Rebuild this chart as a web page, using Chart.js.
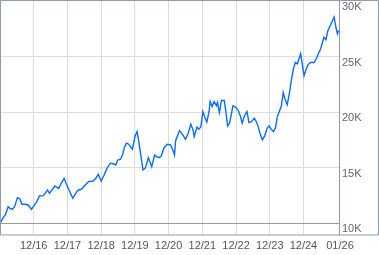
<!DOCTYPE html>
<html>
<head>
<meta charset="utf-8">
<script src="https://cdn.jsdelivr.net/npm/chart.js@4/dist/chart.umd.min.js"></script>
<style>
  html, body { margin: 0; padding: 0; background: #fff; }
  #chart { display: block; }
</style>
</head>
<body>
<canvas id="chart" width="379" height="255"></canvas>
<script>
// months counted from Dec 2015 (0 = 12/15)
const months = [
  0.2, 1.2, 1.9, 2.9, 3.6, 4.3, 5.2, 6.2, 7.1, 7.8,
  9.0, 10.0, 11.2, 12.4, 13.1, 14.0, 15.4, 16.1, 16.9, 17.6,
  18.5, 19.5, 20.2, 20.9, 21.8, 22.8, 23.5, 24.7, 25.9, 26.6,
  27.8, 29.0, 30.3, 31.5, 33.1, 34.1, 35.0, 36.0, 36.9, 38.1,
  39.3, 40.5, 41.2, 41.9, 42.9, 43.6, 44.3, 45.0, 45.7, 46.4,
  47.1, 48.1, 48.8, 49.3, 50.0, 50.9, 51.7, 52.4, 52.8, 54.0,
  55.0, 55.7, 56.6, 57.4, 58.3, 59.5, 60.7, 61.5, 62.1, 62.5,
  63.9, 64.8, 66.0, 67.0, 67.9, 68.7, 69.1, 70.1, 70.8, 71.5,
  72.2, 72.9, 73.6, 74.4, 74.8, 75.5, 76.2, 77.0, 77.4, 78.1,
  78.8, 79.8, 80.3, 81.0, 81.7, 82.4, 82.9, 83.8, 84.8, 85.5,
  86.2, 86.9, 87.9, 88.6, 89.5, 90.5, 91.2, 91.9, 92.5, 93.4,
  94.2, 95.1, 95.8, 96.5, 97.3, 98.0, 98.7, 99.4, 100.1, 100.8,
  101.5, 102.2, 103.0, 103.7, 104.4, 105.1, 105.8, 106.5, 107.0, 107.7,
  108.2, 108.9, 109.6, 110.5, 111.8, 112.7, 113.4, 114.1, 114.8, 115.3,
  116.0, 116.7, 117.5, 118.2, 118.9, 119.6, 120.1, 120.5
];
const values = [
  10090, 10540, 10750, 11500, 11350, 11260, 11500, 12310, 12190, 11710,
  11710, 11650, 11260, 11710, 11950, 12460, 12490, 12700, 13000, 12700,
  13000, 13360, 13240, 13150, 13600, 14050, 13600, 12910, 12250, 12550,
  13000, 13060, 13450, 13750, 13810, 14050, 14410, 13810, 14260, 14960,
  15410, 15340, 15250, 15700, 15770, 16150, 16850, 17210, 17140, 16900,
  16670, 17870, 18250, 17510, 16310, 14800, 14960, 15550, 15910, 15100,
  16150, 16000, 15910, 16060, 16760, 17120, 17050, 16600, 16150, 17440,
  18340, 18050, 17570, 18110, 18920, 18410, 17800, 18650, 18470, 18700,
  20060, 19550, 19100, 20060, 20960, 20510, 20960, 20570, 20870, 19970,
  21050, 21050, 20210, 18770, 19010, 19910, 20570, 20450, 20150, 19670,
  19010, 19600, 20060, 19060, 19150, 19460, 19150, 18700, 18110, 17510,
  17870, 18560, 18770, 18470, 18250, 18560, 19600, 20060, 20510, 21770,
  21110, 20660, 21710, 22910, 23880, 24470, 24350, 24870, 25250, 24110,
  23270, 23810, 24260, 24470, 24470, 24870, 25320, 25680, 26310, 26720,
  26520, 27350, 27780, 28160, 28560, 27570, 27060, 27350
];
const xTickMonths = [12, 24, 36, 48, 60, 72, 84, 96, 108, 121];
const xTickLabels = ['12/16', '12/17', '12/18', '12/19', '12/20', '12/21', '12/22', '12/23', '12/24', '01/26'];
const yTickValues = [10000, 15000, 20000, 25000, 30000];
const yTickLabels = ['10K', '15K', '20K', '25K', '30K'];

const frameColor = '#8c9bb3';

// outer box and the divider between plot and value labels
const framePlugin = {
    id: 'frame',
    afterDraw: function(chart) {
        const ctx = chart.ctx;
        const area = chart.chartArea;
        ctx.save();
        ctx.strokeStyle = frameColor;
        ctx.lineWidth = 1;
        ctx.beginPath();
        ctx.rect(0.5, 0.5, chart.width - 1, Math.round(area.bottom) - 0.5);
        ctx.moveTo(Math.round(area.right) - 0.5, 0);
        ctx.lineTo(Math.round(area.right) - 0.5, Math.round(area.bottom));
        ctx.stroke();
        ctx.restore();
    }
};

new Chart(document.getElementById('chart'), {
    type: 'line',
    data: {
        datasets: [{
            data: months.map((m, i) => ({ x: m, y: values[i] })),
            borderColor: '#0a6cff',
            borderWidth: 1.4,
            pointRadius: 0,
            tension: 0,
            fill: false
        }]
    },
    options: {
        responsive: false,
        animation: false,
        events: [],
        layout: { padding: { top: 1, left: 0, right: 0, bottom: 0 } },
        plugins: {
            legend: { display: false },
            title: { display: false },
            tooltip: { enabled: false }
        },
        scales: {
            x: {
                type: 'linear',
                position: 'bottom',
                min: 0,
                max: 121,
                afterBuildTicks: function(scale) {
                    scale.ticks = xTickMonths.map(v => ({ value: v }));
                },
                afterFit: function(scale) {
                    scale.height = 20;
                    scale.paddingLeft = 0;
                    scale.paddingRight = 0;
                },
                border: { display: false },
                grid: {
                    drawTicks: false,
                    color: ctx => ctx.tick && ctx.tick.value === 121 ? 'rgba(0,0,0,0)' : '#dcdcdc'
                },
                ticks: {
                    autoSkip: false,
                    maxRotation: 0,
                    padding: 4,
                    color: '#555',
                    font: { family: 'Liberation Sans', size: 11 },
                    callback: function(v) {
                        const i = xTickMonths.indexOf(v);
                        return i >= 0 ? xTickLabels[i] : '';
                    }
                }
            },
            y: {
                type: 'linear',
                position: 'right',
                min: 8950,
                max: 30000,
                afterBuildTicks: function(scale) {
                    scale.ticks = yTickValues.map(v => ({ value: v }));
                },
                afterFit: function(scale) {
                    scale.width = 39;
                    scale.paddingTop = 0;
                    scale.paddingBottom = 0;
                },
                border: { display: false },
                grid: {
                    drawTicks: false,
                    color: function(ctx) {
                        if (!ctx.tick) return '#dcdcdc';
                        if (ctx.tick.value === 10000) return '#999';
                        if (ctx.tick.value === 30000) return 'rgba(0,0,0,0)';
                        return '#dcdcdc';
                    }
                },
                ticks: {
                    padding: 2,
                    labelOffset: 6,
                    color: '#666',
                    font: { family: 'Liberation Sans', size: 11 },
                    callback: function(v) {
                        const i = yTickValues.indexOf(v);
                        return i >= 0 ? yTickLabels[i] : '';
                    }
                }
            }
        }
    },
    plugins: [framePlugin]
});
</script>
</body>
</html>
